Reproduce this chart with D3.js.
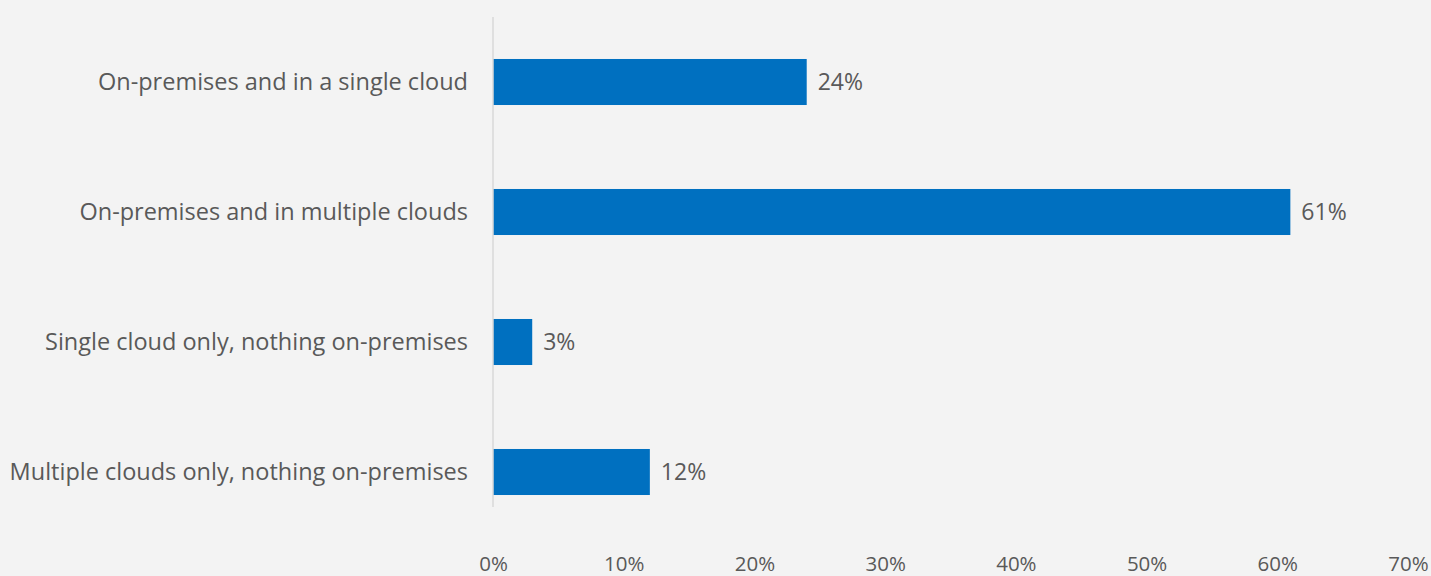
<!DOCTYPE html>
<html>
<head>
<meta charset="utf-8">
<script src="https://cdn.jsdelivr.net/npm/d3@7"></script>
<style>
  html, body { margin: 0; padding: 0; background: #f3f3f3; }
  svg { display: block; }
  text { font-family: "Open Sans", "Noto Sans", sans-serif; fill: #595959; }
</style>
</head>
<body>
<svg id="chart" width="1431" height="576"></svg>
<script>
// Where workloads run
const categories = [
  "On-premises and in a single cloud",
  "On-premises and in multiple clouds",
  "Single cloud only, nothing on-premises",
  "Multiple clouds only, nothing on-premises"
];
const values = [24, 61, 3, 12];
const tickValues = [0, 10, 20, 30, 40, 50, 60, 70];

const width = 1431, height = 576;
const margin = { top: 17, right: 23, bottom: 39, left: 493 };
const fontStack = '"Open Sans", "Noto Sans", sans-serif';

const svg = d3.select("#chart");
svg.append("rect").attr("width", width).attr("height", height).attr("fill", "#f3f3f3");

const x = d3.scaleLinear().domain([0, 70]).range([margin.left, width - margin.right]);
const y = d3.scaleBand().domain(categories).range([margin.top, height - margin.bottom]).paddingInner(0.646).paddingOuter(0.323);

// bars
svg.append("g").selectAll("rect")
  .data(values)
  .join("rect")
  .attr("x", x(0))
  .attr("y", (d, i) => y(categories[i]))
  .attr("width", d => x(d) - x(0))
  .attr("height", y.bandwidth())
  .attr("fill", "#0070c0");

// value labels
svg.append("g").selectAll("text")
  .data(values)
  .join("text")
  .attr("x", d => x(d) + 11)
  .attr("y", (d, i) => y(categories[i]) + y.bandwidth() / 2)
  .attr("dy", "0.35em")
  .attr("font-size", 23)
  .text(d => d + "%");

// vertical category axis
const yAxis = svg.append("g")
  .attr("transform", `translate(${x(0)},0)`)
  .call(d3.axisLeft(y).tickSize(0).tickPadding(25));
yAxis.select(".domain").attr("stroke", "#d9d9d9").attr("stroke-width", 1.5)
  .attr("d", `M0,${margin.top}V${height - margin.bottom - 30}`);
yAxis.selectAll("text").attr("font-size", 23.5).attr("fill", "#595959")
  .style("font-family", fontStack);

// horizontal value axis (labels only)
const xAxis = svg.append("g")
  .attr("transform", `translate(0,${height - 5})`)
  .call(d3.axisBottom(x).tickValues(tickValues).tickFormat(d => d + "%").tickSize(0).tickPadding(0));
xAxis.select(".domain").remove();
xAxis.selectAll("text").attr("font-size", 20.5).attr("dy", null).attr("y", 0)
  .attr("fill", "#595959").style("font-family", fontStack);
</script>
</body>
</html>
